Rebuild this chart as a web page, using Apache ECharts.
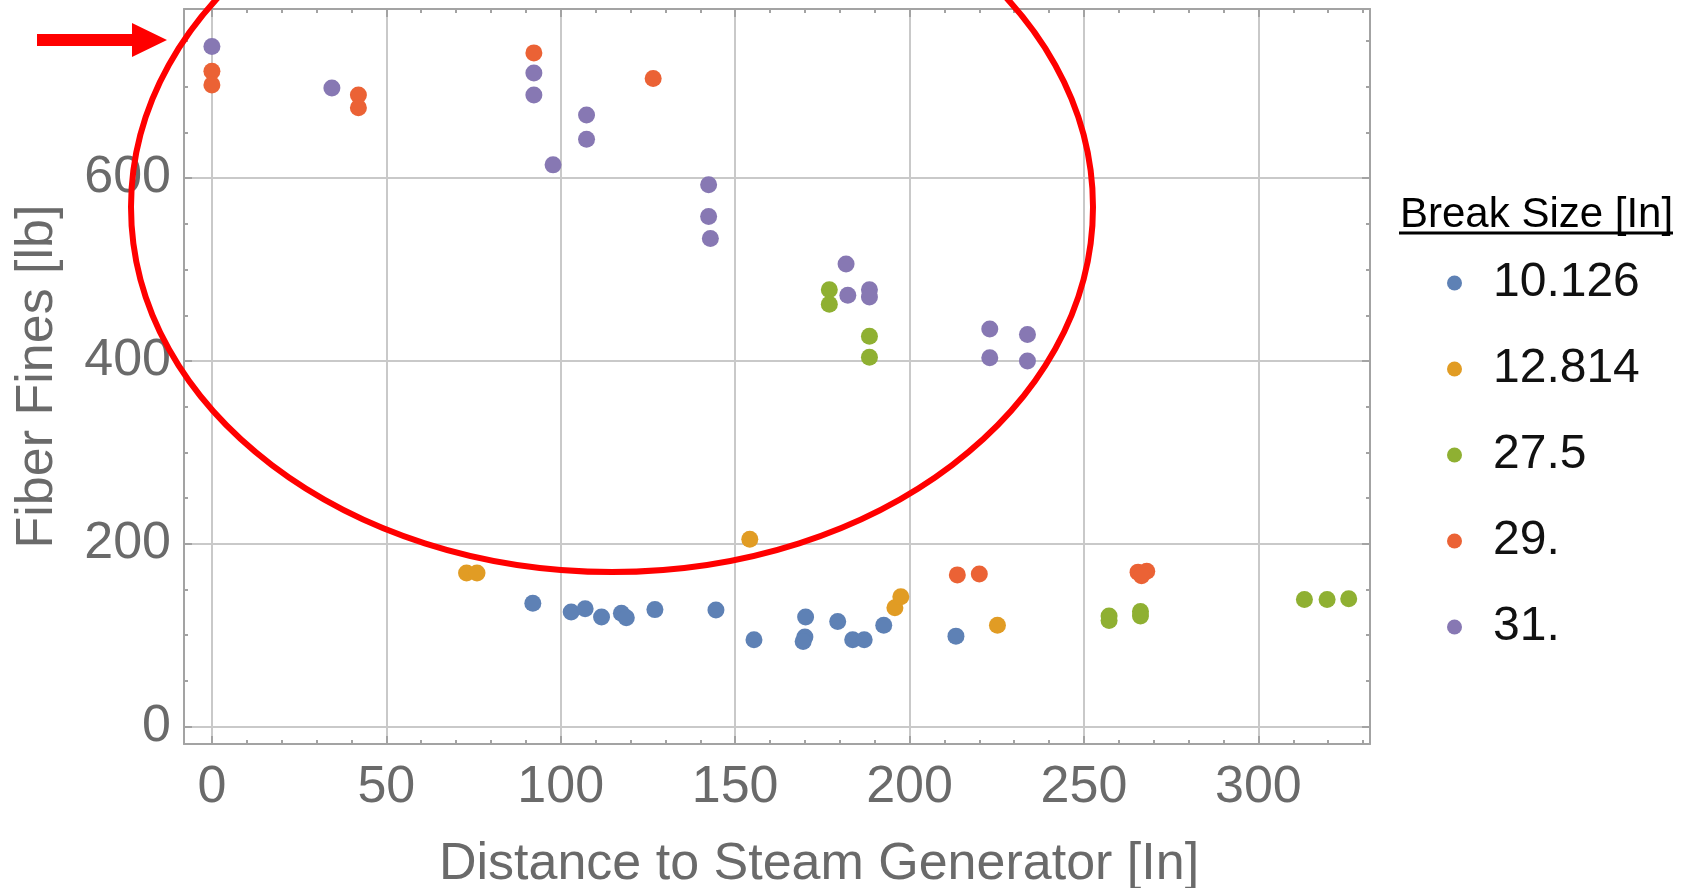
<!DOCTYPE html>
<html><head><meta charset="utf-8">
<script src="https://cdn.jsdelivr.net/npm/echarts@6/dist/echarts.min.js"></script>
<style>html,body{margin:0;padding:0;background:#fff}#c{width:1690px;height:888px}</style>
</head><body><div id="c"></div>
<script>
// ---- data ----
const breakSizes = ['10.126', '12.814', '27.5', '29.', '31.'];
const seriesColors = ['#5E81B5', '#E19C24', '#8FB032', '#EB6235', '#8778B3'];
const size10_126 = [[92,135],[103,125.5],[107,129],[111.7,120],[117.4,124],[118.8,119],[127,128],[144.5,127.5],[155.4,95],[170.2,120],[170,98],[169.5,93],[179.4,115],[183.7,95],[187,95],[192.6,111],[213.3,99]];
const size12_814 = [[73,168],[76,168],[154.2,205],[195.8,130],[197.5,142],[225.2,111]];
const size27_5 = [[177,478],[177,462],[188.5,427],[188.5,404],[257.2,121],[257.2,116],[266.2,126],[266.2,121],[313.2,139],[319.7,139],[325.9,140]];
const size29 = [[0,717],[0,702],[42,691],[42,677],[92.3,737],[126.5,709],[213.7,166],[220,167],[265.5,169],[268,170],[266.5,165]];
const size31 = [[0,744],[34.4,698.5],[92.3,715],[92.3,691],[97.8,614.5],[107.4,669],[107.4,642.6],[142.4,592.7],[142.4,558],[142.9,534],[181.8,506],[182.3,472],[188.5,478],[188.5,470],[223,435],[223,403.6],[233.8,429],[233.8,400]];
const allSeries = [size10_126, size12_814, size27_5, size29, size31];
const xTicks = [0, 50, 100, 150, 200, 250, 300];
const xMinorTicks = [10,20,30,40,60,70,80,90,110,120,130,140,160,170,180,190,210,220,230,240,260,270,280,290,310,320,330];
const yTicks = [0, 200, 400, 600];
const yMinorTicks = [50,100,150,250,300,350,450,500,550,650,700,750];
const xRange = [-8, 332];
const yRange = [-19, 785];
const xTitle = 'Distance to Steam Generator [In]';
const yTitle = 'Fiber Fines [lb]';
const legendTitle = 'Break Size [In]';

// ---- styles ----
const FONT = '"Liberation Sans", Arial, sans-serif';
const frameColor = '#a3a3a3', gridColor = '#c9c9c9', labelColor = '#6a6a6a';

function axis(kind, pos, major, opts) {
  const isX = kind === 'x';
  const range = isX ? xRange : yRange;
  const ticks = major ? (isX ? xTicks : yTicks) : (isX ? xMinorTicks : yMinorTicks);
  const main = major && (pos === 'bottom' || pos === 'left');
  return Object.assign({
    type: 'value', gridIndex: 0, position: pos, min: range[0], max: range[1],
    axisLine: { show: major, onZero: false, lineStyle: { color: frameColor, width: 2 } },
    axisTick: { show: true, inside: true, length: major ? 8 : 4, customValues: ticks,
      lineStyle: { color: frameColor, width: 2 } },
    axisLabel: main ? { show: true, customValues: ticks, fontSize: 52, color: labelColor,
      fontFamily: FONT, margin: isX ? 18 : 13 } : { show: false },
    splitLine: { show: main, lineStyle: { color: gridColor, width: 2 } },
    axisPointer: { show: false }
  }, opts || {});
}

const chart = echarts.init(document.getElementById('c'), null, { renderer: 'canvas' });
chart.setOption({
  animation: false,
  backgroundColor: '#ffffff',
  grid: { left: 184, right: 320, top: 9, bottom: 144, containLabel: false, outerBoundsMode: 'none' },
  xAxis: [
    axis('x', 'bottom', true, {
      name: xTitle, nameLocation: 'middle', nameGap: 95,
      nameTextStyle: { fontSize: 52, color: labelColor, fontFamily: FONT, padding: [0, 0, 0, 84] }
    }),
    axis('x', 'bottom', false),
    axis('x', 'top', true),
    axis('x', 'top', false)
  ],
  yAxis: [
    axis('y', 'left', true, {
      name: yTitle, nameLocation: 'middle', nameGap: 120,
      nameTextStyle: { fontSize: 52, color: labelColor, fontFamily: FONT }
    }),
    axis('y', 'left', false),
    axis('y', 'right', true),
    axis('y', 'right', false)
  ],
  legend: {
    orient: 'vertical', left: 1442, top: 254, itemWidth: 15, itemHeight: 15, itemGap: 38,
    icon: 'circle', data: breakSizes,
    formatter: n => '{t|' + n + '}',
    textStyle: { color: '#111', fontSize: 48, fontFamily: FONT,
      rich: { t: { fontSize: 48, lineHeight: 48, color: '#111', fontFamily: FONT, padding: [0, 0, 0, 26] } } }
  },
  series: allSeries.map((d, i) => ({
    type: 'scatter', name: breakSizes[i], data: d, xAxisIndex: 0, yAxisIndex: 0,
    symbol: 'circle', symbolSize: 17,
    itemStyle: { color: seriesColors[i], opacity: 1 }
  })),
  graphic: [
    { type: 'text', left: 1400, top: 194, z: 100,
      style: { text: legendTitle, font: '42px ' + FONT, fill: '#000' } },
    { type: 'line', z: 100, shape: { x1: 1399, y1: 233, x2: 1673, y2: 233 },
      style: { stroke: '#000', lineWidth: 3 } },
    { type: 'ellipse', z: 100, shape: { cx: 612, cy: 207, rx: 481, ry: 365 },
      style: { fill: 'none', stroke: '#ff0000', lineWidth: 6 } },
    { type: 'polygon', z: 100,
      shape: { points: [[37,34],[132,34],[132,23],[167,40],[132,57],[132,46],[37,46]] },
      style: { fill: '#ff0000' } }
  ]
});
</script></body></html>
